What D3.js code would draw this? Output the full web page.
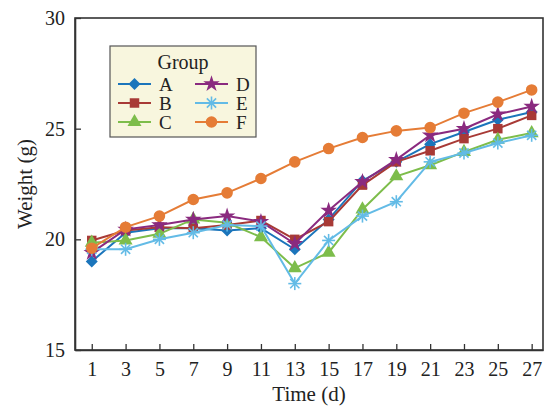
<!DOCTYPE html>
<html><head><meta charset="utf-8">
<script src="https://cdn.jsdelivr.net/npm/d3@7"></script>
<style>body{margin:0;background:#fff}svg{display:block}</style>
</head><body>
<svg id="chart" width="550" height="408"></svg>
<script>
const days = [1,3,5,7,9,11,13,15,17,19,21,23,25,27];
const groupNames = ["A","B","C","D","E","F"];
const seriesA = [19.0,20.3,20.5,20.5,20.4,20.5,19.55,20.9,22.65,23.5,24.3,24.85,25.4,25.75];
const seriesB = [19.95,20.4,20.55,20.5,20.65,20.85,20.0,20.8,22.45,23.5,24.0,24.55,25.0,25.6];
const seriesC = [19.85,19.95,20.25,20.9,20.75,20.1,18.7,19.4,21.35,22.85,23.35,23.95,24.5,24.8];
const seriesD = [19.4,20.45,20.65,20.9,21.05,20.8,19.8,21.3,22.6,23.6,24.7,25.0,25.65,26.0];
const seriesE = [19.55,19.55,20.0,20.3,20.65,20.6,18.0,19.95,21.05,21.7,23.5,23.9,24.35,24.7];
const seriesF = [19.6,20.55,21.05,21.8,22.1,22.75,23.5,24.1,24.6,24.9,25.05,25.7,26.2,26.75];
const yTicks = [15,20,25,30];
const colors = ["#1b75bb","#a83a36","#7dbd4b","#8a2a7f","#63bbe6","#e57c36"];
const symbols = ["diamond","square","triangle","star","asterisk","circle"];
const allSeries = [seriesA,seriesB,seriesC,seriesD,seriesE,seriesF];

const svg = d3.select("#chart");
const L=75, R=543, T=18, B=350;
const x = d3.scaleLinear().domain([0.01,27.67]).range([L,R]);
const y = d3.scaleLinear().domain([15,30]).range([B,T]);
const font = "'Liberation Serif','Times New Roman',serif";
const axisColor = "#333";

svg.append("rect").attr("x",L).attr("y",T).attr("width",R-L).attr("height",B-T)
  .attr("fill","none").attr("stroke",axisColor).attr("stroke-width",1.6);

const xAxis = svg.append("g").attr("transform",`translate(0,${B})`)
  .call(d3.axisBottom(x).tickValues(days).tickSizeInner(-6).tickSizeOuter(0).tickPadding(12));
const yAxis = svg.append("g").attr("transform",`translate(${L},0)`)
  .call(d3.axisLeft(y).tickValues(yTicks).tickSizeInner(-6).tickSizeOuter(0).tickPadding(10));
[xAxis,yAxis].forEach(g=>{
  g.select(".domain").attr("stroke",axisColor).attr("stroke-width",1.6);
  g.selectAll(".tick line").attr("stroke",axisColor).attr("stroke-width",1.3);
  g.selectAll("text").attr("font-family",font).attr("font-size",20).attr("fill","#222");
});

svg.append("text").attr("x",(L+R)/2).attr("y",401).attr("text-anchor","middle")
  .attr("font-family",font).attr("font-size",21).attr("fill","#222").text("Time (d)");
svg.append("text").attr("transform",`translate(32,${(T+B)/2}) rotate(-90)`).attr("text-anchor","middle")
  .attr("font-family",font).attr("font-size",21).attr("fill","#222").text("Weight (g)");

function drawMarker(g, type, cx, cy, color){
  if(type==="asterisk"){
    const r=6.5;
    for(let k=0;k<4;k++){
      const a=k*Math.PI/4;
      g.append("line").attr("x1",cx-r*Math.cos(a)).attr("y1",cy-r*Math.sin(a))
        .attr("x2",cx+r*Math.cos(a)).attr("y2",cy+r*Math.sin(a))
        .attr("stroke",color).attr("stroke-width",1.6);
    }
    return;
  }
  if(type==="diamond"){
    const r=6;
    g.append("path").attr("d",`M${cx},${cy-r}L${cx+r},${cy}L${cx},${cy+r}L${cx-r},${cy}Z`).attr("fill",color);
    return;
  }
  const map={square:[d3.symbolSquare,90],triangle:[d3.symbolTriangle,85],
    star:[d3.symbolStar,85],circle:[d3.symbolCircle,105]};
  const [sym,size]=map[type];
  g.append("path").attr("d",d3.symbol().type(sym).size(size)())
    .attr("transform",`translate(${cx},${cy})`).attr("fill",color);
}

const line = d3.line().x((d,i)=>x(days[i])).y(d=>y(d));
allSeries.forEach((s,k)=>{
  const g = svg.append("g");
  g.append("path").datum(s).attr("d",line).attr("fill","none")
    .attr("stroke",colors[k]).attr("stroke-width",2);
  s.forEach((v,i)=>drawMarker(g,symbols[k],x(days[i]),y(v),colors[k]));
});

const lg = svg.append("g");
lg.append("rect").attr("x",110).attr("y",46).attr("width",146).attr("height",91)
  .attr("fill","#f8f6de").attr("stroke","#555").attr("stroke-width",1.2);
lg.append("text").attr("x",183).attr("y",69).attr("text-anchor","middle")
  .attr("font-family",font).attr("font-size",20).attr("fill","#222").text("Group");
groupNames.forEach((nm,k)=>{
  const col = Math.floor(k/3), row = k%3;
  const x0 = col===0?118:195, yy = 84+row*19;
  lg.append("line").attr("x1",x0).attr("x2",x0+33).attr("y1",yy).attr("y2",yy)
    .attr("stroke",colors[k]).attr("stroke-width",2);
  drawMarker(lg,symbols[k],x0+16.5,yy,colors[k]);
  lg.append("text").attr("x",x0+41).attr("y",yy+6.5).attr("font-family",font)
    .attr("font-size",19).attr("fill","#222").text(nm);
});
</script>
</body></html>
